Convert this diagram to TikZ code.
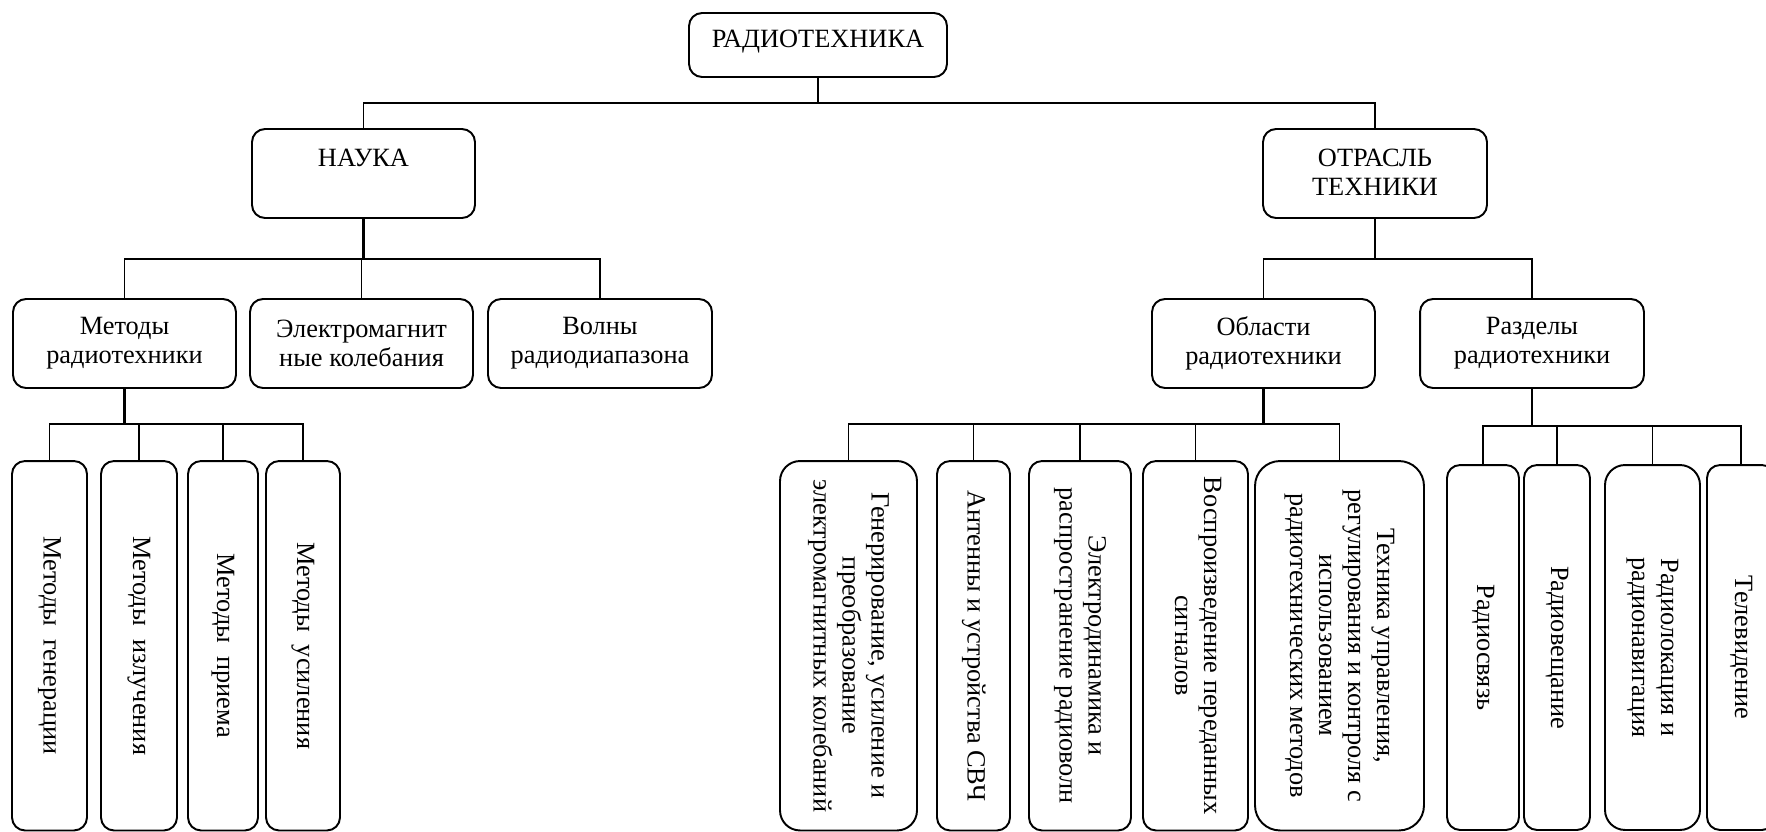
\documentclass[tikz,border=0pt]{standalone}
\usepackage{fontspec}
\setmainfont{Liberation Serif}
\usepackage{graphicx}

\tikzset{
  box/.style={draw, line width=1.1pt, rounded corners=0.26cm, inner sep=0pt, align=center},
  title/.style={anchor=north, inner sep=0pt, align=center},
  link/.style={line width=1.1pt},
  stem/.style={line width=1.6pt},
}
\newcommand{\vtext}[1]{\rotatebox{-90}{\begin{tabular}{@{}c@{}}#1\end{tabular}}}

\begin{document}
\begin{tikzpicture}[x=0.02cm, y=-0.02cm, font=\fontsize{15}{16.5}\selectfont]
    \useasboundingbox (0,0) rectangle (1766,832);
    \clip (0,0) rectangle (1766,832);

    % top levels
    \node[box, minimum width=5.16cm, minimum height=1.28cm] (radio) at (818,45) {};
    \node[title] (radio-t) at (818,30) {РАДИОТЕХНИКА};
    \node[box, minimum width=4.46cm, minimum height=1.78cm] (nauka) at (363.5,173.5) {};
    \node[title] (nauka-t) at (363.5,149) {НАУКА};
    \node[box, minimum width=4.48cm, minimum height=1.78cm] (otrasl) at (1375,173.5) {};
    \node[title] (otrasl-t) at (1375,149) {ОТРАСЛЬ\\ТЕХНИКИ};

    % second level
    \node[box, minimum width=4.46cm, minimum height=1.78cm] (metody) at (124.5,343.5) {Методы\\радиотехники};
    \node[box, minimum width=4.46cm, minimum height=1.78cm] (elmag) at (361.5,343.5) {Электромагнит\\ные колебания};
    \node[box, minimum width=4.48cm, minimum height=1.78cm] (volny) at (600,343.5) {Волны\\радиодиапазона};
    \node[box, minimum width=4.46cm, minimum height=1.78cm] (oblasti) at (1263.5,343.5) {Области\\радиотехники};
    \node[box, minimum width=4.48cm, minimum height=1.78cm] (razdely) at (1532,343.5) {Разделы\\радиотехники};

    % third level, methods
    \node[box, minimum width=1.5cm, minimum height=7.39cm] (mgen) at (49.5,645.75) {\vtext{Методы\ \ генерации}};
    \node[box, minimum width=1.52cm, minimum height=7.39cm] (mizl) at (139,645.75) {\vtext{Методы\ \ излучения}};
    \node[box, minimum width=1.4cm, minimum height=7.39cm] (mpri) at (223,645.75) {\vtext{Методы\ \ приема}};
    \node[box, minimum width=1.48cm, minimum height=7.39cm] (musil) at (303,645.75) {\vtext{Методы\ \ усиления}};

    % third level, areas
    \node[box, rounded corners=0.4cm, minimum width=2.74cm, minimum height=7.39cm] (agen) at (848.5,645.75)
      {\vtext{Генерирование, усиление и\\преобразование\\электромагнитных колебаний}};
    \node[box, minimum width=1.46cm, minimum height=7.39cm] (aant) at (973.5,645.75) {\vtext{Антенны и устройства СВЧ}};
    \node[box, minimum width=2.04cm, minimum height=7.39cm] (aedin) at (1080,645.75)
      {\vtext{Электродинамика и\\распространение радиоволн}};
    \node[box, minimum width=2.1cm, minimum height=7.39cm] (avos) at (1195.5,645.75)
      {\vtext{Воспроизведение переданных\\сигналов}};
    \node[box, rounded corners=0.5cm, minimum width=3.38cm, minimum height=7.39cm] (atech) at (1339.5,645.75)
      {\vtext{Техника управления,\\регулирования и контроля с\\использованием\\радиотехнических методов}};

    % third level, sections
    \node[box, minimum width=1.44cm, minimum height=7.3cm] (rsv) at (1483,647.5) {\vtext{Радиосвязь}};
    \node[box, minimum width=1.32cm, minimum height=7.3cm] (rvesh) at (1557,647.5) {\vtext{Радиовещание}};
    \node[box, rounded corners=0.4cm, minimum width=1.9cm, minimum height=7.3cm] (rlok) at (1652.5,647.5)
      {\vtext{Радиолокация и\\радионавигация}};
    \node[box, minimum width=1.36cm, minimum height=7.3cm] (rtv) at (1741,647.5) {\vtext{Телевидение}};

    % connectors
    \coordinate (bus1) at (818,103);
    \draw[stem] (radio.south) -- (bus1);
    \draw[link] (nauka.north) |- (bus1) -| (otrasl.north);

    \coordinate (bus2l) at (363.5,259);
    \draw[stem] (nauka.south) -- (bus2l);
    \draw[link] (metody.north) |- (bus2l) -| (volny.north);
    \draw[link] (elmag.north) -- (elmag.north |- bus2l);

    \coordinate (bus2r) at (1375,259);
    \draw[stem] (otrasl.south) -- (bus2r);
    \draw[link] (oblasti.north) |- (bus2r) -| (razdely.north);

    \coordinate (bus3a) at (124.5,424);
    \draw[stem] (metody.south) -- (bus3a);
    \draw[link] (mgen.north) |- (bus3a) -| (musil.north);
    \foreach \n in {mizl,mpri}
      \draw[link] (\n.north) -- (\n.north |- bus3a);

    \coordinate (bus3b) at (1263.5,424);
    \draw[stem] (oblasti.south) -- (bus3b);
    \draw[link] (agen.north) |- (bus3b) -| (atech.north);
    \foreach \n in {aant,aedin,avos}
      \draw[link] (\n.north) -- (\n.north |- bus3b);

    \coordinate (bus3c) at (1532,426);
    \draw[stem] (razdely.south) -- (bus3c);
    \draw[link] (rsv.north) |- (bus3c) -| (rtv.north);
    \foreach \n in {rvesh,rlok}
      \draw[link] (\n.north) -- (\n.north |- bus3c);
\end{tikzpicture}
\end{document}
